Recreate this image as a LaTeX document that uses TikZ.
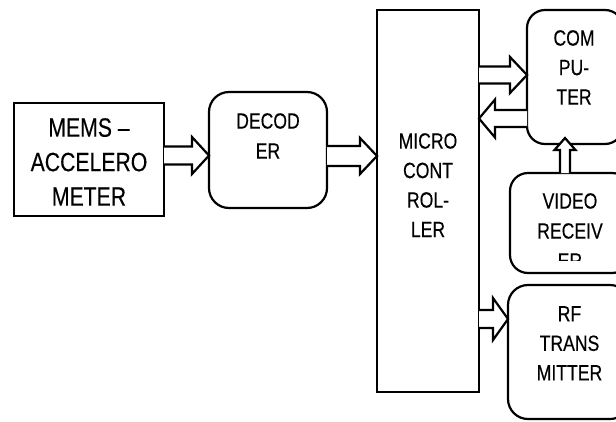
\documentclass[tikz,border=0pt]{standalone}
\usepackage{fontspec}
\setmainfont{Liberation Sans}[FakeStretch=0.8,FakeBold=0.3]
\usetikzlibrary{calc}
\tikzset{
  blockbox/.style={draw, line width=2.2pt, anchor=north west, inner sep=0pt, outer sep=0pt},
  roundbox/.style={blockbox, rounded corners=#1},
  lbl/.style={anchor=north, align=center, inner sep=0pt, font=\fontsize{22}{29.5}\selectfont},
  blk/.style={draw, fill=white, line width=2.2pt, line join=miter}
}
\newcommand\harrow[5]{\draw[blk] ($(#1)+(0,{-(#3)})$) -- ($(#2)+({-(#5)},{-(#3)})$) -- ($(#2)+({-(#5)},{-(#4)})$) -- (#2) -- ($(#2)+({-(#5)},{#4})$) -- ($(#2)+({-(#5)},{#3})$) -- ($(#1)+(0,{#3})$);}
\newcommand\varrow[5]{\draw[blk] ($(#1)+({-(#3)},0)$) -- ($(#2)+({-(#3)},{#5})$) -- ($(#2)+({-(#4)},{#5})$) -- (#2) -- ($(#2)+({#4},{#5})$) -- ($(#2)+({#3},{#5})$) -- ($(#1)+({#3},0)$);}
\begin{document}
\begin{tikzpicture}[x=1pt,y=-1pt]
\useasboundingbox (0,0) rectangle (616,421);
\clip (0,0) rectangle (616,421);
% boxes
\node[blockbox, minimum width=150pt, minimum height=113pt] (mems) at (14,103) {};
\node[roundbox=20pt, minimum width=118pt, minimum height=116pt] (dec) at (209,92) {};
\node[blockbox, minimum width=102pt, minimum height=382pt] (mc) at (377,10) {};
\node[roundbox=18pt, minimum width=96pt, minimum height=134pt] (comp) at (527,10) {};
\node[roundbox=18pt, minimum width=120pt, minimum height=100pt] (video) at (510,173) {};
\node[roundbox=20pt, minimum width=122pt, minimum height=134pt] (rf) at (508,285) {};
% labels
\node[lbl, font=\fontsize{26.5}{34.5}\selectfont] (memst) at (89,118) {MEMS –\\ACCELERO\\METER};
\node[lbl, font=\fontsize{22}{30}\selectfont] (dect) at (268,113) {DECOD\\ER};
\node[lbl] (mct) at (428,133) {MICRO\\CONT\\ROL-\\LER};
\node[lbl] (compt) at (574,30) {COM\\PU-\\TER};
\begin{scope}
\clip (500,180) rectangle (616,260);
\node[lbl, font=\fontsize{22}{30}\selectfont] (videot) at (570,193) {VIDEO\\RECEIV\\ER};
\end{scope}
\node[lbl] (rft) at (569.5,306) {RF\\TRANS\\MITTER};
% arrows
\coordinate (a1s) at (mems.east |- 0,155.5);
\coordinate (a1t) at (dec.west |- 0,155.5);
\harrow{a1s}{a1t}{9}{18.5}{17}
\coordinate (a2s) at (dec.east |- 0,156);
\coordinate (a2t) at (mc.west |- 0,156);
\harrow{a2s}{a2t}{10}{18}{17}
\coordinate (a3s) at (mc.east |- 0,75);
\coordinate (a3t) at (comp.west |- 0,75);
\harrow{a3s}{a3t}{8.5}{18}{17}
\coordinate (a4s) at (comp.west |- 0,118.5);
\coordinate (a4t) at (mc.east |- 0,118.5);
\harrow{a4s}{a4t}{8.5}{19}{-16}
\coordinate (a5s) at (video.north -| 565,0);
\coordinate (a5t) at ($(comp.south -| 565,0)+(0,-6)$);
\varrow{a5s}{a5t}{5}{10.5}{12}
\coordinate (a6s) at (mc.east |- 0,319);
\coordinate (a6t) at (rf.west |- 0,319);
\harrow{a6s}{a6t}{9}{21}{15}
\end{tikzpicture}
\end{document}
